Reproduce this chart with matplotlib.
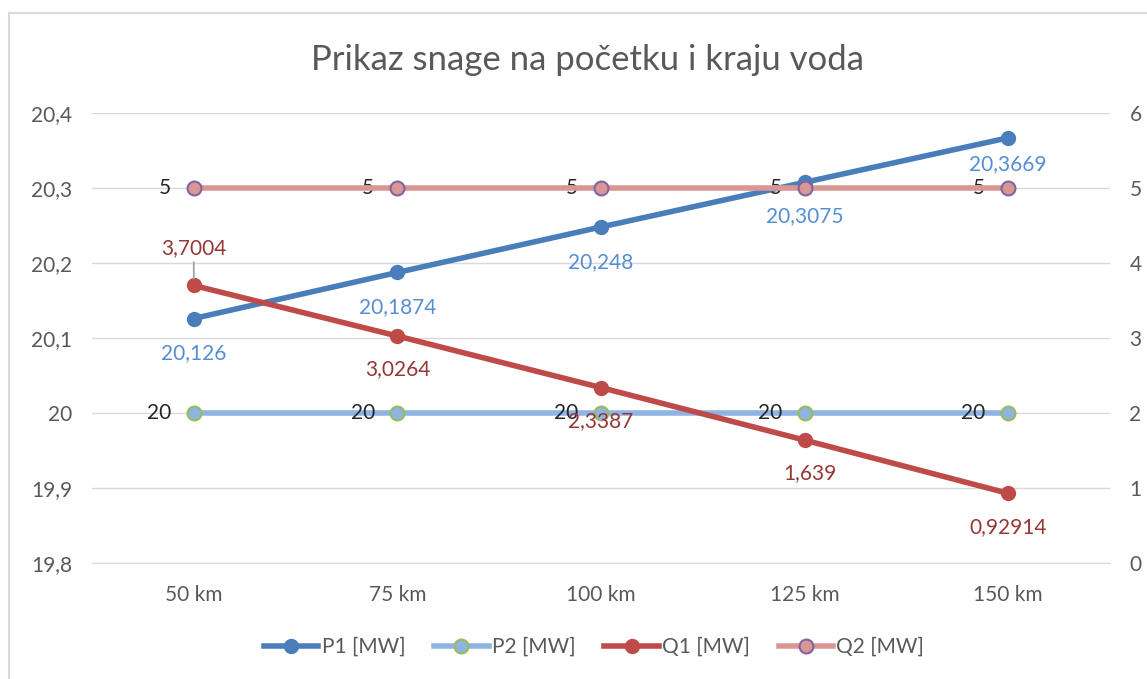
import matplotlib.pyplot as plt
from matplotlib.patches import Rectangle
from matplotlib.lines import Line2D

plt.rcParams['font.family'] = ['Lato', 'DejaVu Sans']

categories = ["50 km", "75 km", "100 km", "125 km", "150 km"]
p1 = [20.126, 20.1874, 20.248, 20.3075, 20.3669]
p2 = [20, 20, 20, 20, 20]
q1 = [3.7004, 3.0264, 2.3387, 1.639, 0.92914]
q2 = [5, 5, 5, 5, 5]

p1_labels = ["20,126", "20,1874", "20,248", "20,3075", "20,3669"]
p2_labels = ["20"] * 5
q1_labels = ["3,7004", "3,0264", "2,3387", "1,639", "0,92914"]
q2_labels = ["5"] * 5

left_ticks = [19.8, 19.9, 20.0, 20.1, 20.2, 20.3, 20.4]
left_ticklabels = ["19,8", "19,9", "20", "20,1", "20,2", "20,3", "20,4"]
right_ticks = [0, 1, 2, 3, 4, 5, 6]

c_p1 = "#4A7EBB"
c_p2 = "#8EB4E3"
c_q1 = "#BE4B48"
c_q2 = "#D99694"
txt = "#595959"

fig = plt.figure(figsize=(11.47, 6.79), dpi=100)
fig.patches.append(Rectangle((9 / 1147, -0.1), 1.2, 1 - 13 / 679 + 0.1,
                             transform=fig.transFigure, fill=False,
                             edgecolor="#D9D9D9", linewidth=1.5))

ax = fig.add_axes([0.0802, 0.1708, 0.8875, 0.6628])
ax2 = ax.twinx()
x = list(range(len(categories)))

ax.set_xlim(-0.5, 4.5)
ax.set_ylim(19.8, 20.4)
ax2.set_ylim(0, 6)
ax.set_yticks(left_ticks)
ax.set_yticklabels(left_ticklabels)
ax2.set_yticks(right_ticks)
ax.set_xticks(x)
ax.set_xticklabels(categories)
ax.grid(axis="y", color="#D9D9D9", linewidth=1)
ax.set_axisbelow(True)
for a in (ax, ax2):
    for s in a.spines.values():
        s.set_visible(False)
    a.tick_params(length=0, labelsize=15, labelcolor=txt)
ax.tick_params(axis="y", pad=14)
ax2.tick_params(axis="y", pad=14)
ax.tick_params(axis="x", pad=16)
ax.spines["bottom"].set_visible(True)
ax.spines["bottom"].set_color("#D9D9D9")

ax.plot(x, p2, color=c_p2, lw=4, marker="o", ms=10, mfc=c_p2, mec="#9BBB59", mew=1.5, zorder=3)
ax.plot(x, p1, color=c_p1, lw=4, marker="o", ms=10, mfc=c_p1, mec=c_p1, zorder=4)
ax2.plot(x, q1, color=c_q1, lw=4, marker="o", ms=10, mfc=c_q1, mec=c_q1, zorder=3)
ax2.plot(x, q2, color=c_q2, lw=4, marker="o", ms=10, mfc=c_q2, mec="#8064A2", mew=1.5, zorder=4)

fs = 15
p1_dy = [-25, -25, -25, -24, -19]
q1_dx = [0, 0, 0, 4, 0]
for i in x:
    ax.annotate(p1_labels[i], (i, p1[i]), xytext=(0, p1_dy[i]), textcoords="offset points",
                ha="center", va="center", fontsize=fs, color="#558ED5")
    ax.annotate(p2_labels[i], (i, p2[i]), xytext=(-25, 0), textcoords="offset points",
                ha="center", va="center", fontsize=fs, color="#262626")
    ax2.annotate(q2_labels[i], (i, q2[i]), xytext=(-21, 0), textcoords="offset points",
                 ha="center", va="center", fontsize=fs, color="#262626")
    if i == 0:
        ax2.annotate(q1_labels[i], (i, q1[i]), xytext=(0, 27), textcoords="offset points",
                     ha="center", va="center", fontsize=fs, color="#953735",
                     arrowprops=dict(arrowstyle="-", color="#A6A6A6", lw=1.3,
                                     shrinkA=1, shrinkB=5))
    else:
        ax2.annotate(q1_labels[i], (i, q1[i]), xytext=(q1_dx[i], -24), textcoords="offset points",
                     ha="center", va="center", fontsize=fs, color="#953735")

fig.text(0.512, 0.912, "Prikaz snage na početku i kraju voda", ha="center", va="center",
         fontsize=25, color=txt)

handles = [
    Line2D([], [], color=c_p1, lw=4, marker="o", ms=10, mfc=c_p1, mec=c_p1),
    Line2D([], [], color=c_p2, lw=4, marker="o", ms=10, mfc=c_p2, mec="#9BBB59", mew=1.5),
    Line2D([], [], color=c_q1, lw=4, marker="o", ms=10, mfc=c_q1, mec=c_q1),
    Line2D([], [], color=c_q2, lw=4, marker="o", ms=10, mfc=c_q2, mec="#8064A2", mew=1.5),
]
leg = fig.legend(handles, ["P1 [MW]", "P2 [MW]", "Q1 [MW]", "Q2 [MW]"],
                 loc="center", bbox_to_anchor=(0.518, 0.047), ncol=4, frameon=False,
                 fontsize=15, handlelength=2.6, handletextpad=0.15, columnspacing=1.4)
for t in leg.get_texts():
    t.set_color(txt)

fig.savefig("out.png", dpi=100)
